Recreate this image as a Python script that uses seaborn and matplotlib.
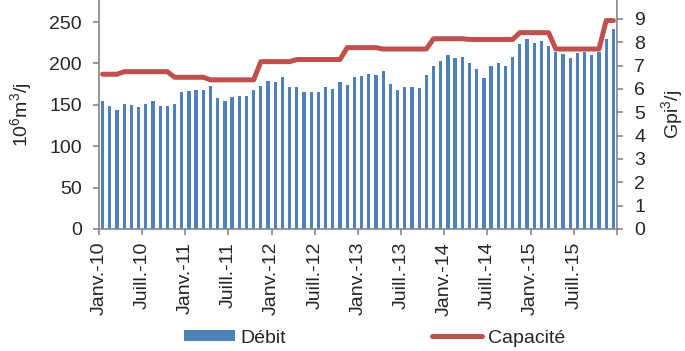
import numpy as np
import pandas as pd
import matplotlib
matplotlib.use('Agg')
import matplotlib.pyplot as plt
import seaborn as sns
from matplotlib.patches import Patch
from matplotlib.lines import Line2D

# Monthly data, Jan 2010 - Dec 2015
debit = [155, 149, 144, 151, 150, 147, 151, 154, 148, 149, 151, 165,
         167, 168, 168, 173, 158, 155, 160, 161, 161, 168, 173, 179,
         178, 184, 171, 171, 165, 165, 165, 172, 169, 177, 174, 184,
         185, 187, 186, 191, 175, 168, 171, 171, 170, 186, 197, 203,
         210, 207, 208, 201, 193, 182, 197, 200, 197, 208, 224, 230,
         225, 227, 221, 214, 211, 206, 213, 214, 210, 214, 230, 241]

capacite = [6.63, 6.63, 6.63, 6.74, 6.74, 6.74, 6.74, 6.74, 6.74, 6.74, 6.50, 6.50,
            6.50, 6.50, 6.50, 6.39, 6.39, 6.39, 6.39, 6.39, 6.39, 6.39, 7.17, 7.17,
            7.17, 7.17, 7.17, 7.26, 7.26, 7.26, 7.26, 7.26, 7.26, 7.26, 7.77, 7.77,
            7.77, 7.77, 7.77, 7.71, 7.71, 7.71, 7.71, 7.71, 7.71, 7.71, 8.15, 8.15,
            8.15, 8.15, 8.15, 8.12, 8.12, 8.12, 8.12, 8.12, 8.12, 8.12, 8.41, 8.41,
            8.41, 8.41, 8.41, 7.71, 7.71, 7.71, 7.71, 7.71, 7.71, 7.71, 8.93, 8.93]

tick_labels = ['Janv.-10', 'Juill.-10', 'Janv.-11', 'Juill.-11', 'Janv.-12', 'Juill.-12',
               'Janv.-13', 'Juill.-13', 'Janv.-14', 'Juill.-14', 'Janv.-15', 'Juill.-15']

df = pd.DataFrame({'mois': np.arange(len(debit)), 'debit': debit, 'capacite': capacite})

sns.set_theme(style='white')
plt.rcParams['font.family'] = ['Liberation Sans', 'DejaVu Sans']
plt.rcParams['mathtext.fontset'] = 'custom'
plt.rcParams['mathtext.rm'] = 'Liberation Sans'

blue = '#4F81BD'
red = '#C0504D'
grey = '#868686'
fs = 14

fig = plt.figure(figsize=(6.85, 3.51), dpi=100)
ax = fig.add_axes([0.1445, 0.3476, 0.7562, 0.6524])

sns.barplot(data=df, x='mois', y='debit', color=blue, width=0.45, ax=ax,
            saturation=1, errorbar=None, linewidth=0)
ax2 = ax.twinx()
sns.lineplot(data=df, x='mois', y='capacite', color=red, linewidth=3.6, ax=ax2)

ax.set_xlim(-0.5, len(debit) - 0.5)
ax.set_ylim(0, 276.6)
ax2.set_ylim(0, 9.81)

ax.set_yticks(range(0, 251, 50))
ax2.set_yticks(range(0, 10))

# ticks between categories, every 6 months
ticks = np.arange(-0.5, len(debit), 6)
ax.set_xticks(ticks)
ax.set_xticklabels(tick_labels + [''], rotation=90, fontsize=fs)

for a in (ax, ax2):
    for s in a.spines.values():
        s.set_visible(False)
    a.grid(False)
ax.spines['left'].set_visible(True)
ax.spines['bottom'].set_visible(True)
ax2.spines['right'].set_visible(True)
for s in (ax.spines['left'], ax.spines['bottom'], ax2.spines['right']):
    s.set_color(grey)
    s.set_linewidth(1.2)

ax.tick_params(axis='y', left=True, length=4.3, width=1.2, color=grey, pad=8, labelsize=fs)
ax.tick_params(axis='x', bottom=True, length=4.3, width=1.2, color=grey, pad=5, labelsize=fs)
ax2.tick_params(axis='y', right=True, length=4.3, width=1.2, color=grey, pad=8, labelsize=fs)

ax.set_xlabel('')
ax.set_ylabel(r'$\mathregular{10^6m^3/j}$', fontsize=fs, labelpad=11)
ax2.set_ylabel(r'$\mathregular{Gpi^3/j}$', fontsize=fs, labelpad=10)

handles = [Patch(facecolor=blue, edgecolor='none'),
           Line2D([0], [0], color=red, linewidth=3.6)]
fig.legend(handles, ['Débit', 'Capacité'], loc='center', bbox_to_anchor=(0.547, 0.037),
           ncol=2, frameon=False, fontsize=fs, handlelength=2.6, handleheight=0.5,
           handletextpad=0.3, columnspacing=7.5)

fig.savefig('out.png', dpi=100)
